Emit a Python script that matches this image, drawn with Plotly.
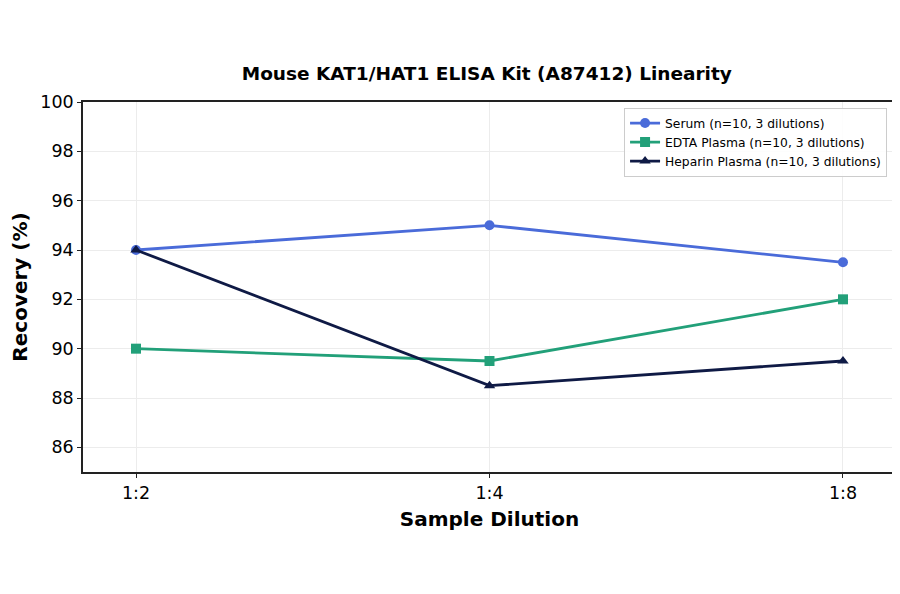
import plotly.graph_objects as go

dilutions = ["1:2", "1:4", "1:8"]
serum = [94.0, 95.0, 93.5]
edta = [90.0, 89.5, 92.0]
heparin = [94.0, 88.5, 89.5]
names = ["Serum (n=10, 3 dilutions)", "EDTA Plasma (n=10, 3 dilutions)", "Heparin Plasma (n=10, 3 dilutions)"]
colors = ["#4a6bd9", "#22a079", "#0f1a45"]
symbols = ["circle", "square", "triangle-up"]

fig = go.Figure()
for ys, nm, c, s in zip([serum, edta, heparin], names, colors, symbols):
    fig.add_trace(go.Scatter(x=dilutions, y=ys, name=nm, mode="lines+markers",
                             line=dict(color=c, width=2.8),
                             marker=dict(color=c, symbol=s, size=10)))

fig.update_layout(
    width=900, height=594,
    paper_bgcolor="white", plot_bgcolor="white",
    font=dict(family="DejaVu Sans", color="black"),
    margin=dict(l=75, r=12, t=94, b=130),
    title=dict(text="<b>Mouse KAT1/HAT1 ELISA Kit (A87412) Linearity</b>",
               x=0.532, xanchor="center", y=0.89, yanchor="middle",
               font=dict(size=18.5)),
    xaxis=dict(type="category", range=[-0.15, 2.15], automargin=False,
               title=dict(text="<b>Sample Dilution</b>", font=dict(size=20), standoff=10),
               tickfont=dict(size=17.5), showline=True, linecolor="#222", linewidth=1.5,
               mirror=True, ticks="outside", ticklen=4, tickcolor="#222",
               showgrid=True, gridcolor="#ececec", zeroline=False),
    yaxis=dict(range=[85, 100], dtick=2, tick0=86, automargin=False,
               title=dict(text="<b>Recovery (%)</b>", font=dict(size=20), standoff=15),
               tickfont=dict(size=17.5), showline=True, linecolor="#222", linewidth=1.5,
               mirror=True, ticks="outside", ticklen=4, tickcolor="#222",
               showgrid=True, gridcolor="#ececec", zeroline=False),
    legend=dict(x=0.989, xanchor="right", y=0.985, yanchor="top",
                bgcolor="rgba(255,255,255,0.9)", bordercolor="#cccccc", borderwidth=1,
                font=dict(size=12.3), itemwidth=30, tracegroupgap=0),
    showlegend=True,
)

fig.write_html("out.html")
